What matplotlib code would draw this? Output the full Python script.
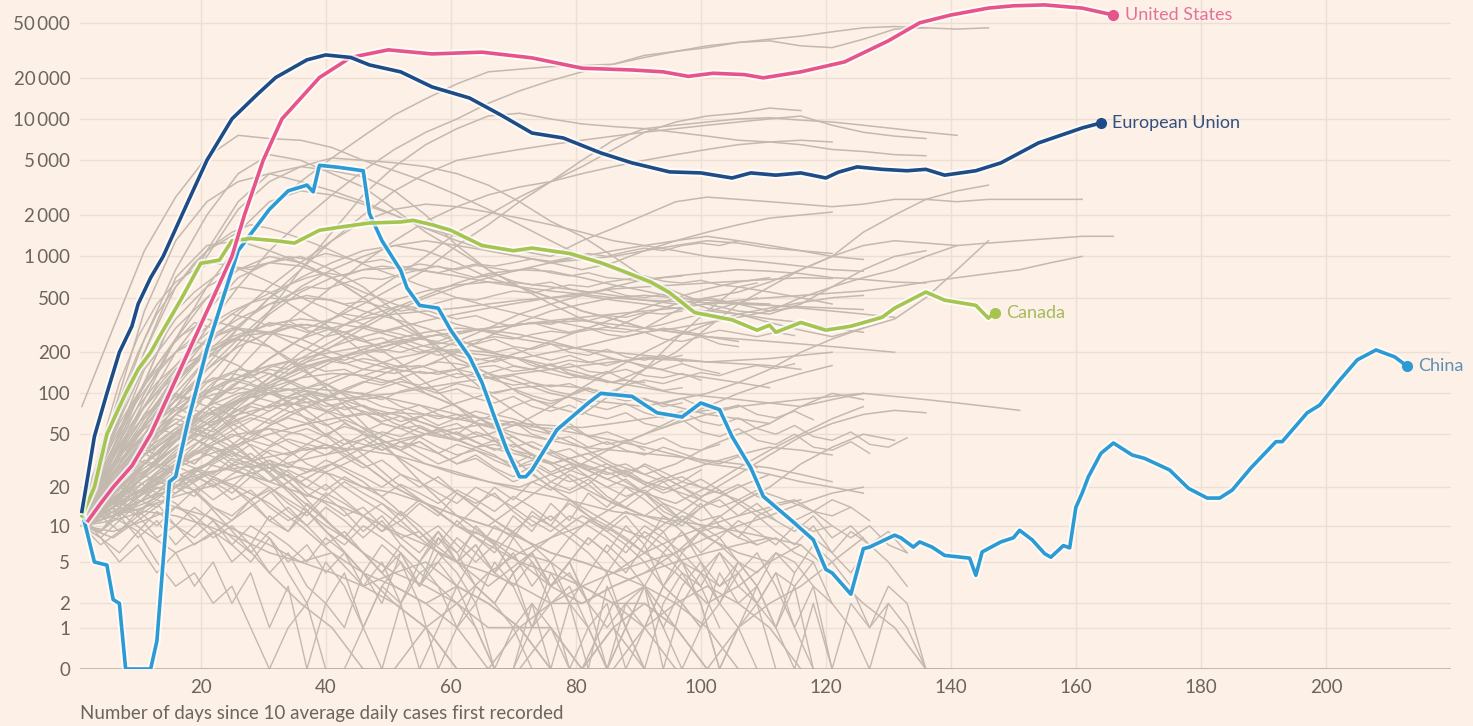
import numpy as np
import matplotlib
matplotlib.use("Agg")
import matplotlib.pyplot as plt
import matplotlib.patheffects as pe

plt.rcParams['font.family'] = ['Lato', 'DejaVu Sans']

# highlighted countries: day -> 7-day avg daily cases
us_days = [2, 4, 6, 9, 12, 15, 18, 22, 25, 27, 30, 33, 39, 44, 50, 57, 65, 73, 81, 89, 94, 98,
           102, 107, 110, 116, 123, 130, 135, 140, 146, 150, 155, 161, 166]
us_vals = [11, 15, 20, 29, 50, 100, 200, 500, 1000, 2000, 5000, 10000, 20000, 28000, 31800,
           29700, 30600, 27800, 23400, 22700, 22000, 20400, 21500, 21000, 19900, 22000, 26000,
           37000, 50000, 57000, 64000, 66500, 67500, 64000, 57000]

eu_days = [1, 2, 3, 5, 7, 9, 10, 12, 14, 17, 21, 25, 29, 32, 37, 40, 44, 47, 52, 57, 63, 68, 73,
           78, 84, 89, 95, 100, 105, 108, 112, 116, 120, 122, 125, 129, 133, 136, 139, 144, 148,
           154, 161, 164]
eu_vals = [13, 25, 48, 100, 200, 310, 450, 700, 1000, 2000, 5000, 10000, 15000, 20000, 26900,
           29200, 28000, 24700, 22000, 17100, 14200, 10700, 7900, 7270, 5660, 4790, 4120, 4050,
           3720, 4050, 3900, 4050, 3720, 4100, 4480, 4300, 4200, 4300, 3900, 4200, 4790, 6690,
           8600, 9350]

ca_days = [1, 3, 5, 8, 10, 12, 14, 17, 20, 23, 25, 28, 32, 35, 39, 43, 47, 52, 54, 57, 60, 65,
           70, 73, 79, 84, 87, 92, 95, 99, 105, 109, 111, 112, 116, 120, 124, 129, 131, 136, 139,
           144, 146, 147]
ca_vals = [12, 20, 50, 100, 150, 200, 290, 500, 890, 940, 1300, 1350, 1300, 1250, 1550, 1650,
           1750, 1780, 1830, 1700, 1550, 1200, 1100, 1150, 1050, 900, 800, 650, 545, 390, 345,
           290, 315, 280, 330, 290, 310, 360, 420, 550, 480, 440, 355, 390]

cn_days = [1, 3, 5, 6, 7, 8, 12, 13, 15, 16, 18, 21, 24, 26, 31, 34, 37, 38, 39, 42, 46, 47, 49,
           52, 53, 55, 58, 60, 63, 65, 67, 69, 71, 72, 73, 77, 82, 84, 89, 93, 97, 100, 103, 105,
           108, 110, 115, 118, 120, 121, 124, 126, 127, 131, 132, 134, 135, 137, 139, 143, 144,
           145, 148, 150, 151, 153, 155, 156, 158, 159, 160, 161, 162, 164, 166, 169, 171, 175,
           178, 181, 183, 185, 188, 192, 193, 197, 199, 202, 205, 208, 211, 213]
cn_vals = [13, 5, 4.7, 2.2, 2, 0, 0, 0.6, 22, 24, 63, 210, 570, 1100, 2200, 3000, 3300, 2950,
           4600, 4450, 4200, 2050, 1300, 790, 590, 440, 420, 290, 185, 120, 67, 38, 24, 24, 27,
           54, 85, 100, 95, 72, 67, 85, 76, 48, 28, 17, 10.5, 7.7, 4.3, 4, 2.5, 6.5, 6.7, 8.4, 8,
           6.7, 7.4, 6.7, 5.7, 5.4, 3.8, 6.1, 7.4, 8, 9.2, 7.7, 5.9, 5.5, 6.9, 6.6, 14, 18, 24, 36,
           43, 35, 33, 27, 19.6, 16.5, 16.5, 19, 28, 44, 44, 72, 82, 122, 176, 208, 185, 158]

# other countries, one value every 5 days starting at day 1
grey_start = 1
grey_step = 5
grey_series = [
    [12, 25, 60, 140, 300, 600, 1100, 1800, 2800, 4200, 6000, 8000, 10000, 13000, 16000, 19000,
     22000, 25000, 28000, 31000, 34000, 36000, 38000, 40000, 43000, 46000, 47000, 46000, 45000, 46000],
    [11, 30, 90, 250, 600, 1200, 2200, 3500, 5200, 7500, 10700, 14000, 18000, 22000, 23000, 24000,
     24500, 25000, 29000, 31000, 33000, 36000, 37000, 34000, 33000, 38000, 45000, 46000],
    [80, 300, 1100, 2700, 5300, 7600, 7200, 7000, 6200, 5000, 4200, 3500, 2800, 2200, 1700, 1300,
     1000, 800, 650, 500, 420, 380, 330, 290, 260, 300, 350, 500, 800, 1300],
    [14, 40, 120, 400, 1000, 2200, 3500, 4500, 5200, 5000, 4800, 4500, 4000, 3300, 2500, 1800, 1400,
     1000, 700, 550, 450, 400, 380, 450, 600, 800, 1000, 1100],
    [10, 14, 25, 50, 100, 200, 400, 800, 1500, 2800, 4500, 6500, 8500, 10500, 11000, 10000, 9200,
     8800, 8500, 8000, 7500, 7000, 6800, 6500, 6000, 5800, 5500, 5400],
    [10, 20, 40, 80, 160, 300, 500, 800, 1300, 2000, 3000, 4000, 5000, 5500, 6000, 6500, 7000, 7500,
     8000, 8500, 9000, 9500, 10000, 10500, 9000, 8000, 7500, 7200],
    [15, 60, 250, 800, 2000, 4000, 5500, 5000, 4000, 3200, 2200, 1500, 1100, 800, 600, 500, 400, 350,
     300, 400, 500, 450, 400, 500, 600, 700, 800, 1000, 1200],
    [12, 35, 120, 400, 1100, 2500, 4000, 4500, 4200, 3800, 3000, 2000, 1200, 800, 600, 450, 350, 300,
     380, 450, 500, 550, 650, 800, 1000, 1500, 2000, 2600, 3000, 3300],
    [10, 15, 25, 45, 80, 150, 260, 400, 600, 900, 1300, 1800, 2300, 2800, 3200, 3500, 4000, 4500,
     5000, 5500, 6000, 6500, 6800, 7000, 6800],
    [12, 50, 200, 600, 1100, 1500, 2500, 3000, 2800, 2400, 2000, 1600, 1400, 1200, 1100, 1000, 1300,
     1600, 2000, 2500, 2700, 2600, 2500, 2400, 2300, 2400, 2600, 2600, 2500, 2600, 2600, 2600, 2600],
    [12, 70, 400, 1300, 2500, 3500, 4000, 3500, 3000, 2500, 2000, 1600, 1300, 1100, 1000, 900, 800,
     900, 1100, 1300, 1400, 1300, 1200, 1100, 1000, 950],
    [10, 20, 35, 50, 80, 120, 180, 250, 350, 500, 700, 1000, 1500, 2000, 2700, 3500, 4500, 6000,
     8000, 9500, 10500, 11000, 12000, 11500],
    [10, 15, 30, 50, 80, 120, 180, 250, 350, 450, 600, 800, 1200, 1700, 2500, 3500, 5000, 7000,
     8500, 9000, 9500, 10000, 10200, 9800, 9500, 9000, 8500, 8000, 7600],
    [14, 50, 200, 700, 1200, 1300, 1100, 900, 700, 500, 350, 250, 180, 140, 100, 80, 70, 100, 150,
     250, 400, 600, 550, 500, 450],
    [10, 30, 80, 200, 400, 700, 900, 1000, 800, 600, 400, 250, 150, 100, 70, 50, 40, 30, 25, 30, 40,
     50, 60, 80, 100, 90],
    [12, 20, 40, 80, 150, 250, 400, 600, 800, 1000, 1200, 1300, 1200, 1100, 1000, 900, 950, 1000,
     1100, 1200, 1300, 1250, 1150, 1100, 1050],
    [10, 25, 60, 130, 250, 350, 450, 500, 480, 400, 350, 300, 250, 200, 180, 150, 130, 120, 150, 200,
     300, 450, 600, 800, 1000, 1200, 1300, 1250, 1200, 1250, 1300, 1350, 1400, 1400],
    [11, 18, 30, 50, 80, 120, 180, 250, 300, 350, 380, 400, 420, 450, 480, 500, 520, 480, 450, 420,
     400, 380, 350, 330, 300, 280],
    [10, 40, 150, 300, 500, 600, 550, 400, 300, 200, 150, 100, 80, 60, 40, 30, 20, 15, 12, 10, 15,
     20, 25],
    [13, 22, 45, 90, 180, 300, 500, 700, 900, 1100, 1200, 1100, 900, 700, 600, 500, 400, 350, 300,
     280, 260, 250, 240, 230, 220, 210, 200],
    [10, 12, 18, 28, 45, 70, 110, 160, 220, 300, 400, 500, 600, 700, 800, 900, 1000, 1100, 1200,
     1300, 1500, 1700, 1900, 2000, 2100],
    [12, 30, 70, 150, 250, 300, 280, 220, 180, 150, 140, 160, 200, 260, 330, 400, 450, 500, 520, 500,
     480, 460, 450],
    [10, 15, 25, 40, 60, 90, 130, 180, 240, 320, 420, 520, 640, 750, 800, 780, 700, 620, 560, 500,
     480, 460, 440, 420, 400, 380, 360],
    [11, 35, 100, 250, 500, 800, 1000, 900, 700, 500, 350, 250, 180, 140, 120, 100, 90, 85, 80, 90,
     100, 120, 150, 200, 250, 300],
    [10, 20, 45, 100, 180, 260, 320, 350, 330, 300, 260, 220, 200, 190, 180, 200, 220, 250, 280, 300,
     330, 360, 400, 430],
    [10, 14, 20, 30, 50, 80, 120, 170, 220, 260, 300, 340, 380, 420, 460, 500, 540, 580, 600, 620,
     640, 660, 680, 700, 690],
    [12, 50, 160, 350, 600, 800, 900, 850, 700, 550, 450, 380, 320, 280, 250, 230, 210, 200, 190, 180,
     170, 175, 180, 190, 200],
    [10, 22, 50, 120, 220, 380, 600, 900, 1300, 1800, 2200, 2400, 2300, 2100, 1900, 1700, 1500, 1300,
     1200, 1100, 1000, 950, 900, 850, 800, 780],
    [11, 16, 24, 36, 55, 85, 130, 200, 280, 380, 480, 560, 620, 650, 640, 600, 560, 520, 480, 450],
    [10, 28, 65, 130, 200, 260, 280, 250, 200, 170, 150, 140, 150, 170, 200, 240, 290, 350, 420, 500,
     580, 650, 700],
    [14, 45, 120, 250, 350, 300, 220, 150, 110, 80, 60, 50, 45, 50, 60, 80, 110, 150, 200, 260, 320,
     380, 420, 460, 500, 520],
    [10, 18, 35, 70, 130, 230, 380, 550, 700, 800, 820, 780, 720, 650, 600, 560, 530, 500, 480, 470,
     460, 450, 440, 430, 420, 410],
    [10, 15, 22, 30, 40, 50, 55, 50, 40, 30, 20, 15, 10, 7, 5, 4, 3, 2, 2, 1, 0, 1, 2, 3, 5, 8],
    [12, 20, 35, 50, 70, 90, 100, 90, 70, 50, 35, 25, 18, 12, 8, 6, 5, 4, 5, 6, 8, 10, 12, 15, 18, 20],
    [10, 8, 12, 18, 25, 20, 15, 10, 6, 3, 2, 1, 0, 0, 1, 0, 0, 2, 3, 1, 0],
    [10, 25, 60, 120, 200, 250, 220, 160, 100, 60, 35, 20, 12, 8, 5, 3, 2, 3, 4, 6, 10, 15, 20, 30,
     40, 50, 45],
    [11, 18, 30, 45, 60, 70, 80, 85, 90, 95, 100, 110, 120, 130, 140, 150, 160, 170, 180, 175, 170,
     165, 160, 150],
    [10, 14, 18, 22, 26, 28, 30, 28, 25, 20, 18, 15, 12, 10, 8, 6, 5, 4, 6, 8, 10, 12, 14, 16],
    [13, 30, 55, 80, 60, 40, 25, 15, 8, 4, 2, 1, 0, 0, 0, 1, 0],
    [10, 12, 15, 20, 30, 45, 65, 90, 120, 150, 180, 200, 210, 200, 180, 160, 140, 120, 110, 100, 95,
     90, 85, 80, 90, 100],
    [12, 25, 45, 70, 95, 110, 100, 80, 55, 35, 22, 15, 10, 8, 6, 8, 10, 14, 20, 25, 30, 35, 40, 38, 35],
    [10, 9, 11, 14, 12, 9, 7, 5, 6, 4, 3, 2, 3, 2, 1, 1, 0, 1, 2, 1],
    [10, 20, 40, 70, 120, 150, 140, 110, 80, 55, 40, 30, 25, 22, 20, 25, 30, 40, 50, 65, 80, 100, 120,
     140, 160],
    [11, 14, 20, 28, 35, 42, 50, 58, 65, 70, 72, 70, 65, 58, 50, 45, 40, 38, 36, 34, 32, 30, 28, 25, 22],
    [10, 30, 70, 100, 80, 50, 30, 18, 10, 6, 4, 3, 2, 1, 1, 0, 0, 0, 1, 2, 3, 2, 1, 0],
    [12, 18, 28, 40, 55, 75, 100, 130, 170, 210, 250, 280, 300, 290, 270, 240, 210, 180, 160, 140, 130,
     120, 110],
    [10, 13, 16, 20, 25, 30, 34, 38, 40, 38, 35, 30, 26, 22, 19, 17, 15, 13, 12, 11, 10, 9, 8, 7],
    [11, 20, 32, 25, 15, 8, 4, 2, 1, 0, 0, 1, 2, 4, 6, 5, 3, 2, 1, 0],
    [10, 16, 26, 40, 60, 85, 110, 130, 140, 135, 120, 100, 80, 60, 45, 35, 28, 22, 18, 15, 20, 28, 38,
     50, 65, 80],
    [12, 22, 38, 55, 48, 35, 28, 22, 30, 40, 55, 70, 85, 100, 110, 115, 110, 100, 90, 80, 70, 65, 60],
    [10, 11, 13, 12, 10, 8, 6, 5, 4, 3, 4, 5, 3, 2, 1, 2, 3, 4, 3, 2, 1, 0],
    [10, 18, 30, 48, 70, 95, 120, 150, 180, 200, 230, 260, 280, 300, 320, 330, 340, 320, 300, 280,
     260, 240],
    [13, 35, 80, 150, 200, 160, 110, 70, 45, 30, 20, 15, 12, 10, 15, 22, 30, 25, 18, 12, 8, 6, 5],
    [10, 12, 14, 17, 20, 24, 28, 32, 36, 40, 45, 50, 55, 60, 58, 55, 50, 45, 40, 35, 30, 28, 25, 22,
     20, 18],
    [11, 24, 45, 60, 50, 38, 26, 16, 10, 6, 3, 2, 1, 0, 0, 0, 0, 1, 0],
    [10, 20, 35, 55, 80, 100, 110, 105, 95, 80, 70, 60, 50, 40, 35, 30, 35, 40, 50, 60, 70, 80],
    [12, 15, 19, 24, 30, 26, 22, 18, 15, 12, 9, 7, 5, 4, 3, 2, 2, 3, 4, 5, 6, 7, 8],
    [10, 20, 40, 70, 100, 130, 160, 180, 200, 220, 240, 260, 280, 300, 320, 340, 360, 380, 400, 420,
     450, 480, 500, 520, 540, 560, 600, 650, 700, 750, 800, 900, 1000],
    [12, 18, 30, 50, 70, 90, 100, 110, 105, 100, 90, 80, 70, 65, 60, 58, 56, 60, 65, 70, 75, 80, 85,
     90, 95, 100, 95, 90, 85, 80, 75],
    [10, 14, 9, 6, 8, 12, 18, 25, 30, 22, 14, 8, 5, 3, 5, 8, 12, 9, 6, 4, 2, 3, 5, 7, 4, 2, 1, 0],
    [11, 26, 50, 90, 150, 220, 280, 320, 300, 250, 180, 120, 80, 50, 30, 20, 14, 10, 8, 12, 18, 25,
     35, 48, 60, 70, 75, 72],
    [10, 12, 16, 22, 30, 42, 58, 75, 95, 120, 150, 190, 240, 300, 380, 450, 520, 600, 680, 720, 760,
     800, 780, 750, 700, 680, 650, 640],
]

# smaller countries, one value every 3 days starting at day 1
grey_low_start = 1
grey_low_step = 3
grey_low = [
    [10, 14, 18, 25, 30, 28, 35, 40, 32, 28, 22, 25, 18, 15, 12, 14, 10, 8, 9, 6, 5, 7, 4, 3, 5, 2,
     3, 1, 2, 0, 1, 3, 2, 4, 3, 5, 4, 6, 5, 3, 2],
    [11, 9, 13, 17, 22, 20, 26, 31, 38, 45, 41, 50, 55, 48, 60, 52, 45, 40, 44, 36, 30, 33, 27, 22,
     25, 20, 18, 21, 16, 14, 12, 15, 11, 9, 10, 8, 7],
    [10, 16, 24, 35, 48, 60, 75, 70, 85, 95, 88, 80, 92, 75, 68, 72, 60, 55, 58, 50, 45, 40, 42, 38,
     35, 30, 33, 28, 25, 27, 22, 20, 18, 16],
    [12, 8, 6, 9, 5, 3, 4, 2, 3, 1, 0, 1, 2, 0, 0, 1, 3, 2, 5, 3, 2, 1, 0, 0, 2, 1, 0],
    [10, 13, 11, 15, 20, 18, 24, 21, 16, 19, 14, 11, 13, 9, 7, 10, 8, 6, 4, 5, 3, 6, 4, 8, 5, 3, 4,
     2, 1, 2, 3, 1, 0, 1, 2, 1, 0],
    [10, 18, 28, 42, 58, 75, 95, 110, 130, 120, 140, 125, 110, 118, 100, 90, 95, 80, 72, 65, 70, 60,
     55, 62, 50, 45, 48, 40, 44, 38, 35, 40, 36, 32, 30, 34, 28],
    [11, 15, 22, 18, 26, 34, 30, 40, 36, 28, 32, 24, 20, 26, 30, 35, 42, 38, 48, 55, 50, 62, 70, 65,
     58, 52, 60, 48, 42, 45, 38],
    [10, 7, 9, 12, 8, 10, 14, 11, 8, 6, 9, 7, 5, 8, 6, 4, 7, 5, 3, 6, 4, 2, 5, 3, 1, 4, 2, 0, 3, 1,
     0, 2, 4, 3, 1],
    [13, 20, 32, 45, 62, 80, 100, 90, 115, 135, 150, 140, 160, 175, 165, 180, 170, 155, 160, 145,
     130, 140, 125, 115, 120, 105, 98, 110, 95, 88, 92, 80, 85],
    [10, 12, 15, 13, 17, 21, 19, 14, 12, 16, 11, 9, 13, 10, 8, 12, 9, 11, 15, 12, 18, 14, 20, 16, 22,
     19, 25, 21, 28, 24, 30, 26, 22, 27],
    [10, 22, 40, 35, 55, 70, 62, 80, 68, 52, 45, 38, 30, 26, 20, 16, 13, 10, 8, 6, 5, 3, 2, 1, 2, 0,
     0, 1, 0, 2, 1, 3, 2, 1],
    [12, 16, 14, 20, 26, 35, 30, 42, 50, 45, 58, 66, 60, 72, 80, 74, 68, 75, 62, 55, 60, 50, 44, 48,
     40, 36, 39, 32, 28, 30, 25, 22, 24, 20, 18, 21, 17, 15, 16, 13, 12, 14, 11],
    [10, 9, 14, 12, 18, 15, 11, 8, 10, 7, 12, 9, 15, 11, 8, 6, 4, 7, 5, 9, 6, 3, 2, 4, 1, 3, 5, 2, 0,
     1, 3, 6, 4, 2, 0, 1, 2, 4, 3, 5, 2, 1, 0, 2, 1, 0],
    [11, 19, 30, 45, 40, 52, 65, 58, 72, 85, 78, 95, 105, 98, 88, 92, 80, 75, 82, 70, 64, 68, 58, 62,
     54, 50, 56, 48, 52, 46, 42, 47, 40, 38, 42],
    [10, 14, 19, 26, 22, 30, 38, 34, 28, 24, 30, 26, 20, 17, 22, 18, 15, 12, 16, 13, 10, 14, 11, 9,
     12, 10, 8, 11, 9, 7, 10, 8, 6, 9, 7, 5],
    [10, 25, 48, 80, 120, 160, 210, 260, 300, 280, 330, 310, 280, 300, 260, 240, 255, 220, 200, 215,
     190, 175, 185, 160, 150, 165, 140, 130, 145, 125, 120],
    [12, 15, 20, 28, 36, 45, 55, 68, 82, 98, 115, 130, 150, 170, 190, 210, 200, 230, 250, 240, 270,
     290, 280, 310, 330, 320, 350, 340, 370, 360, 390, 380, 400],
    [10, 8, 5, 7, 4, 6, 3, 5, 2, 4, 1, 3, 0, 2, 1, 4, 2, 6, 3, 8, 5, 10, 7, 12, 9, 15, 11, 18, 14,
     20, 16, 12, 10, 14],
    [11, 17, 24, 32, 28, 38, 46, 40, 34, 42, 36, 30, 26, 32, 28, 24, 20, 25, 22, 18, 15, 20, 17, 14,
     11, 9, 12, 10, 8, 6, 9, 7, 5, 3, 6, 4, 2, 0],
    [10, 28, 55, 90, 140, 200, 260, 330, 400, 460, 500, 480, 520, 490, 450, 470, 430, 400, 420, 380,
     350, 370, 330, 310, 330, 300, 280, 300, 270, 260, 280, 250, 240, 260, 230, 220],
    [13, 11, 16, 13, 10, 14, 12, 9, 7, 10, 8, 5, 7, 4, 6, 3, 5, 2, 4, 3, 1, 2, 0, 1, 0, 0, 2, 1, 0,
     1, 0],
    [10, 16, 25, 38, 55, 50, 68, 85, 78, 70, 82, 74, 66, 58, 64, 56, 50, 44, 48, 40, 35, 38, 32, 28,
     30, 25, 22, 24, 20, 17, 19, 15, 13, 11, 12, 9, 7, 8, 6, 5],
    [10, 13, 17, 22, 28, 34, 42, 50, 60, 70, 82, 95, 110, 125, 140, 135, 150, 160, 155, 170, 165,
     155, 160, 145, 150, 140, 130, 135, 120, 125, 115, 105, 110],
    [11, 20, 16, 12, 15, 10, 8, 11, 7, 5, 8, 4, 2, 5, 3, 1, 0, 2, 0, 1, 3, 1, 0, 0, 1, 2, 0],
    [10, 14, 12, 18, 24, 20, 28, 25, 33, 30, 38, 35, 42, 39, 46, 42, 38, 44, 40, 36, 42, 38, 34, 30,
     35, 31, 27, 24, 28, 25, 22, 19, 22, 20, 18, 16, 19, 17, 15, 13, 16, 14],
    [12, 30, 60, 100, 150, 200, 240, 220, 260, 290, 270, 300, 320, 300, 280, 310, 290, 270, 250, 270,
     240, 230, 250, 220, 210, 230, 200, 190, 210, 185, 175, 190, 170],
    [10, 12, 9, 13, 16, 14, 19, 23, 20, 27, 32, 28, 36, 42, 38, 46, 52, 48, 56, 50, 45, 52, 47, 40,
     44, 38, 33, 36, 30, 26, 29, 24, 20, 23, 19, 15, 18, 14, 11, 13, 10, 8, 10, 7, 6],
    [10, 18, 14, 22, 18, 26, 21, 16, 20, 15, 11, 14, 10, 7, 9, 6, 4, 6, 3, 5, 8, 6, 10, 8, 13, 10,
     16, 12, 9, 12, 8, 6, 9, 5, 3, 4, 2, 1, 3, 0],
    [11, 25, 45, 70, 100, 135, 170, 210, 250, 240, 280, 320, 300, 340, 380, 360, 400, 440, 420, 460,
     500, 480, 520, 560, 540, 580, 620, 600, 650, 680, 660, 700, 720],
    [10, 15, 21, 18, 25, 32, 28, 22, 18, 24, 20, 16, 13, 18, 15, 12, 9, 13, 10, 7, 11, 8, 6, 9, 7, 5,
     8, 6, 4, 7, 5, 3, 6, 4, 2, 5, 3, 1, 4],
    [12, 22, 35, 52, 72, 95, 88, 110, 125, 115, 100, 108, 92, 80, 86, 72, 62, 68, 56, 48, 52, 44, 38,
     42, 35, 30, 33, 27, 23, 26, 21, 18, 20, 16, 14, 16, 13, 11],
    [10, 11, 14, 18, 23, 29, 36, 44, 53, 63, 74, 86, 80, 92, 104, 98, 110, 122, 115, 128, 140, 132,
     145, 158, 150, 162, 175, 168, 180, 172, 185, 178, 190],
    [10, 20, 32, 26, 40, 52, 46, 38, 30, 36, 28, 22, 17, 21, 16, 12, 15, 11, 8, 10, 7, 5, 7, 4, 6, 3,
     5, 2, 4, 1, 3, 0, 2, 1, 4, 2, 3],
    [11, 14, 18, 15, 21, 26, 22, 30, 36, 32, 40, 46, 42, 50, 57, 52, 60, 55, 48, 54, 46, 40, 45, 38,
     33, 37, 31, 27, 30, 25, 21, 24, 20, 17, 19, 15, 12, 14, 11, 9, 10],
    [10, 30, 70, 140, 250, 400, 550, 700, 850, 800, 900, 1000, 950, 1050, 980, 900, 950, 850, 800,
     850, 760, 700, 740, 660, 620, 650, 580, 540, 570, 520, 500, 530, 480],
    [12, 22, 40, 70, 110, 160, 230, 300, 380, 460, 540, 620, 700, 760, 720, 800, 850, 820, 880, 840,
     800, 860, 820, 780, 820, 760, 720, 760, 700, 680, 720, 660, 640, 670, 620, 600, 640],
    [10, 40, 120, 260, 450, 650, 800, 900, 850, 750, 650, 560, 480, 420, 360, 320, 280, 300, 260,
     230, 250, 220, 200, 215, 190, 175, 190, 170, 160, 175, 155, 150, 165, 150, 140],
    [11, 18, 30, 48, 75, 110, 160, 220, 290, 370, 450, 520, 600, 580, 640, 700, 680, 740, 800, 760,
     820, 880, 850, 900, 960, 920, 980, 1050, 1000, 1080, 1150, 1100, 1200, 1250, 1200, 1300],
    [10, 24, 50, 95, 160, 240, 330, 300, 380, 350, 310, 340, 290, 260, 280, 240, 220, 240, 210, 190,
     205, 180, 170, 185, 160, 150, 165, 145, 140, 150, 135, 130, 140, 125],
    [13, 35, 90, 200, 380, 600, 900, 1200, 1500, 1700, 1600, 1450, 1300, 1150, 1000, 880, 780, 700,
     620, 560, 500, 460, 420, 390, 360, 340, 320, 300, 290, 280, 300, 320, 350, 380, 420, 460, 500],
    [10, 15, 24, 36, 50, 65, 58, 72, 60, 50, 55, 44, 38, 42, 34, 28, 32, 25, 20, 24, 18, 15, 18, 13,
     10, 12, 9, 7, 10, 8, 6, 9, 5, 4, 6, 3, 2, 4, 1, 3, 0, 2, 1, 3, 2, 0, 0],
    [11, 18, 26, 38, 32, 44, 56, 48, 62, 70, 64, 55, 60, 50, 42, 46, 38, 44, 36, 30, 34, 40, 35, 28,
     32, 26, 30, 24, 20, 23, 18, 22, 17, 14, 16, 12, 15, 11, 9, 12, 8, 10, 7, 9, 6],
    [10, 9, 12, 16, 14, 20, 17, 24, 20, 16, 19, 13, 10, 14, 11, 8, 11, 7, 5, 8, 6, 9, 7, 4, 6, 3, 5,
     8, 6, 10, 7, 12, 9, 6, 8, 5, 3, 6, 4, 7, 5, 3, 1, 2],
    [12, 20, 34, 50, 72, 98, 90, 120, 140, 130, 155, 170, 160, 145, 150, 130, 120, 128, 110, 100,
     108, 92, 85, 95, 80, 74, 82, 70, 65, 72, 60, 56, 64, 52, 48, 55, 45, 42, 50, 40, 38, 44, 36],
    [10, 13, 18, 24, 31, 40, 50, 46, 58, 66, 60, 72, 80, 74, 86, 96, 90, 104, 112, 105, 118, 110,
     100, 108, 96, 88, 94, 82, 76, 84, 72, 66, 74, 62, 58, 66, 55, 50, 58, 48, 45, 52, 42, 40, 47],
    [10, 17, 12, 8, 11, 7, 10, 14, 11, 16, 20, 15, 12, 17, 13, 9, 12, 8, 6, 9, 5, 7, 4, 6, 3, 5, 2,
     4, 7, 5, 3, 1, 3, 5, 2, 4, 6, 3, 1, 0],
    [11, 22, 36, 52, 70, 88, 110, 130, 125, 145, 160, 150, 170, 185, 175, 195, 210, 200, 220, 235,
     225, 245, 260, 250, 270, 285, 275, 290, 305, 295, 280, 300, 285, 270, 290, 275, 260, 280, 265],
    [10, 14, 20, 17, 23, 29, 25, 20, 25, 30, 26, 34, 40, 35, 42, 50, 45, 38, 44, 36, 30, 35, 28, 24,
     29, 22, 19, 23, 17, 14, 18, 13, 11, 15, 10, 8, 12, 9, 7, 10, 6, 4, 7, 5, 3],
    [10, 8, 11, 9, 13, 10, 7, 9, 5, 7, 4, 6, 3, 2, 4, 1, 3, 5, 2, 0, 1, 3, 2, 4, 6, 3, 5, 8, 6, 4, 7,
     3, 5, 2, 0, 1, 3, 1, 0, 2, 0],
    [13, 24, 40, 60, 82, 75, 95, 110, 100, 118, 105, 92, 98, 85, 76, 82, 70, 62, 68, 58, 66, 74, 68,
     80, 90, 84, 96, 108, 100, 115, 125, 118, 130, 142, 135, 150, 160, 152, 165],
    [10, 12, 15, 19, 16, 22, 27, 24, 30, 26, 22, 27, 23, 19, 24, 20, 17, 21, 18, 15, 19, 16, 13, 17,
     14, 11, 15, 12, 10, 13, 11, 9, 12, 10, 8, 11, 9, 7, 10, 8, 6, 9, 7],
    [11, 19, 28, 40, 35, 46, 58, 52, 66, 80, 74, 88, 100, 94, 108, 122, 115, 130, 145, 138, 150, 140,
     128, 135, 120, 112, 118, 104, 96, 102, 90, 84, 92, 80, 75, 82, 70, 66, 74, 64],
]

ytick_vals = [0, 1, 2, 5, 10, 20, 50, 100, 200, 500, 1000, 2000, 5000, 10000, 20000, 50000]
ytick_labels = ['0', '1', '2', '5', '10', '20', '50', '100', '200', '500', '1\u2009000',
                '2\u2009000', '5\u2009000', '10\u2009000', '20\u2009000', '50\u2009000']
xtick_vals = [20, 40, 60, 80, 100, 120, 140, 160, 180, 200]

bg = '#fdf0e6'
fig = plt.figure(figsize=(14.73, 7.26), dpi=100, facecolor=bg)
ax = fig.add_axes([80 / 1473, 57 / 726, 1371 / 1473, 669 / 726])
ax.set_facecolor(bg)

fwd = lambda v: np.log10(1 + np.clip(v, 0, None))
inv = lambda t: 10 ** t - 1
ax.set_yscale('function', functions=(fwd, inv))

grey = '#c4b9af'
for vals in grey_series:
    days = grey_start + grey_step * np.arange(len(vals))
    ax.plot(days, vals, color=grey, lw=1.1, zorder=2)
for vals in grey_low:
    days = grey_low_start + grey_low_step * np.arange(len(vals))
    ax.plot(days, vals, color=grey, lw=1.0, zorder=2)

halo = [pe.Stroke(linewidth=5.5, foreground='#ffffff', alpha=0.75), pe.Normal()]
highlights = [
    (cn_days, cn_vals, '#2c9ad3', '#5d90b5', 'China'),
    (ca_days, ca_vals, '#a5c450', '#a3bb5c', 'Canada'),
    (us_days, us_vals, '#e6548a', '#e5719a', 'United States'),
    (eu_days, eu_vals, '#1d4c86', '#33507e', 'European Union'),
]
for i, (d, v, c, tc, name) in enumerate(highlights):
    ax.plot(d, v, color=c, lw=2.6, solid_joinstyle='round', path_effects=halo, zorder=5 + i)
    ax.plot(d[-1], v[-1], 'o', color=c, ms=7, zorder=10)
    ax.annotate(name, (d[-1], v[-1]), xytext=(8, 0), textcoords='offset points',
                va='center', ha='left', fontsize=13, color=tc, zorder=11)

ax.set_xlim(0.7, 220)
ax.set_ylim(0, 73280)
ax.set_yticks(ytick_vals)
ax.set_yticklabels(ytick_labels)
ax.set_xticks(xtick_vals)
ax.tick_params(length=0, labelsize=13.5, labelcolor='#6b6560')
ax.tick_params(axis='y', pad=7)
ax.tick_params(axis='x', pad=7)
ax.grid(True, color='#ecdfd4', lw=1, zorder=0)
for s in ax.spines.values():
    s.set_visible(False)
ax.axhline(0, color='#b3a89f', lw=1.8, zorder=3)

fig.text(80 / 1473, 12 / 726, 'Number of days since 10 average daily cases first recorded',
         fontsize=13.5, color='#6b6560', ha='left', va='center')

fig.savefig('out.png', dpi=100, facecolor=bg)
